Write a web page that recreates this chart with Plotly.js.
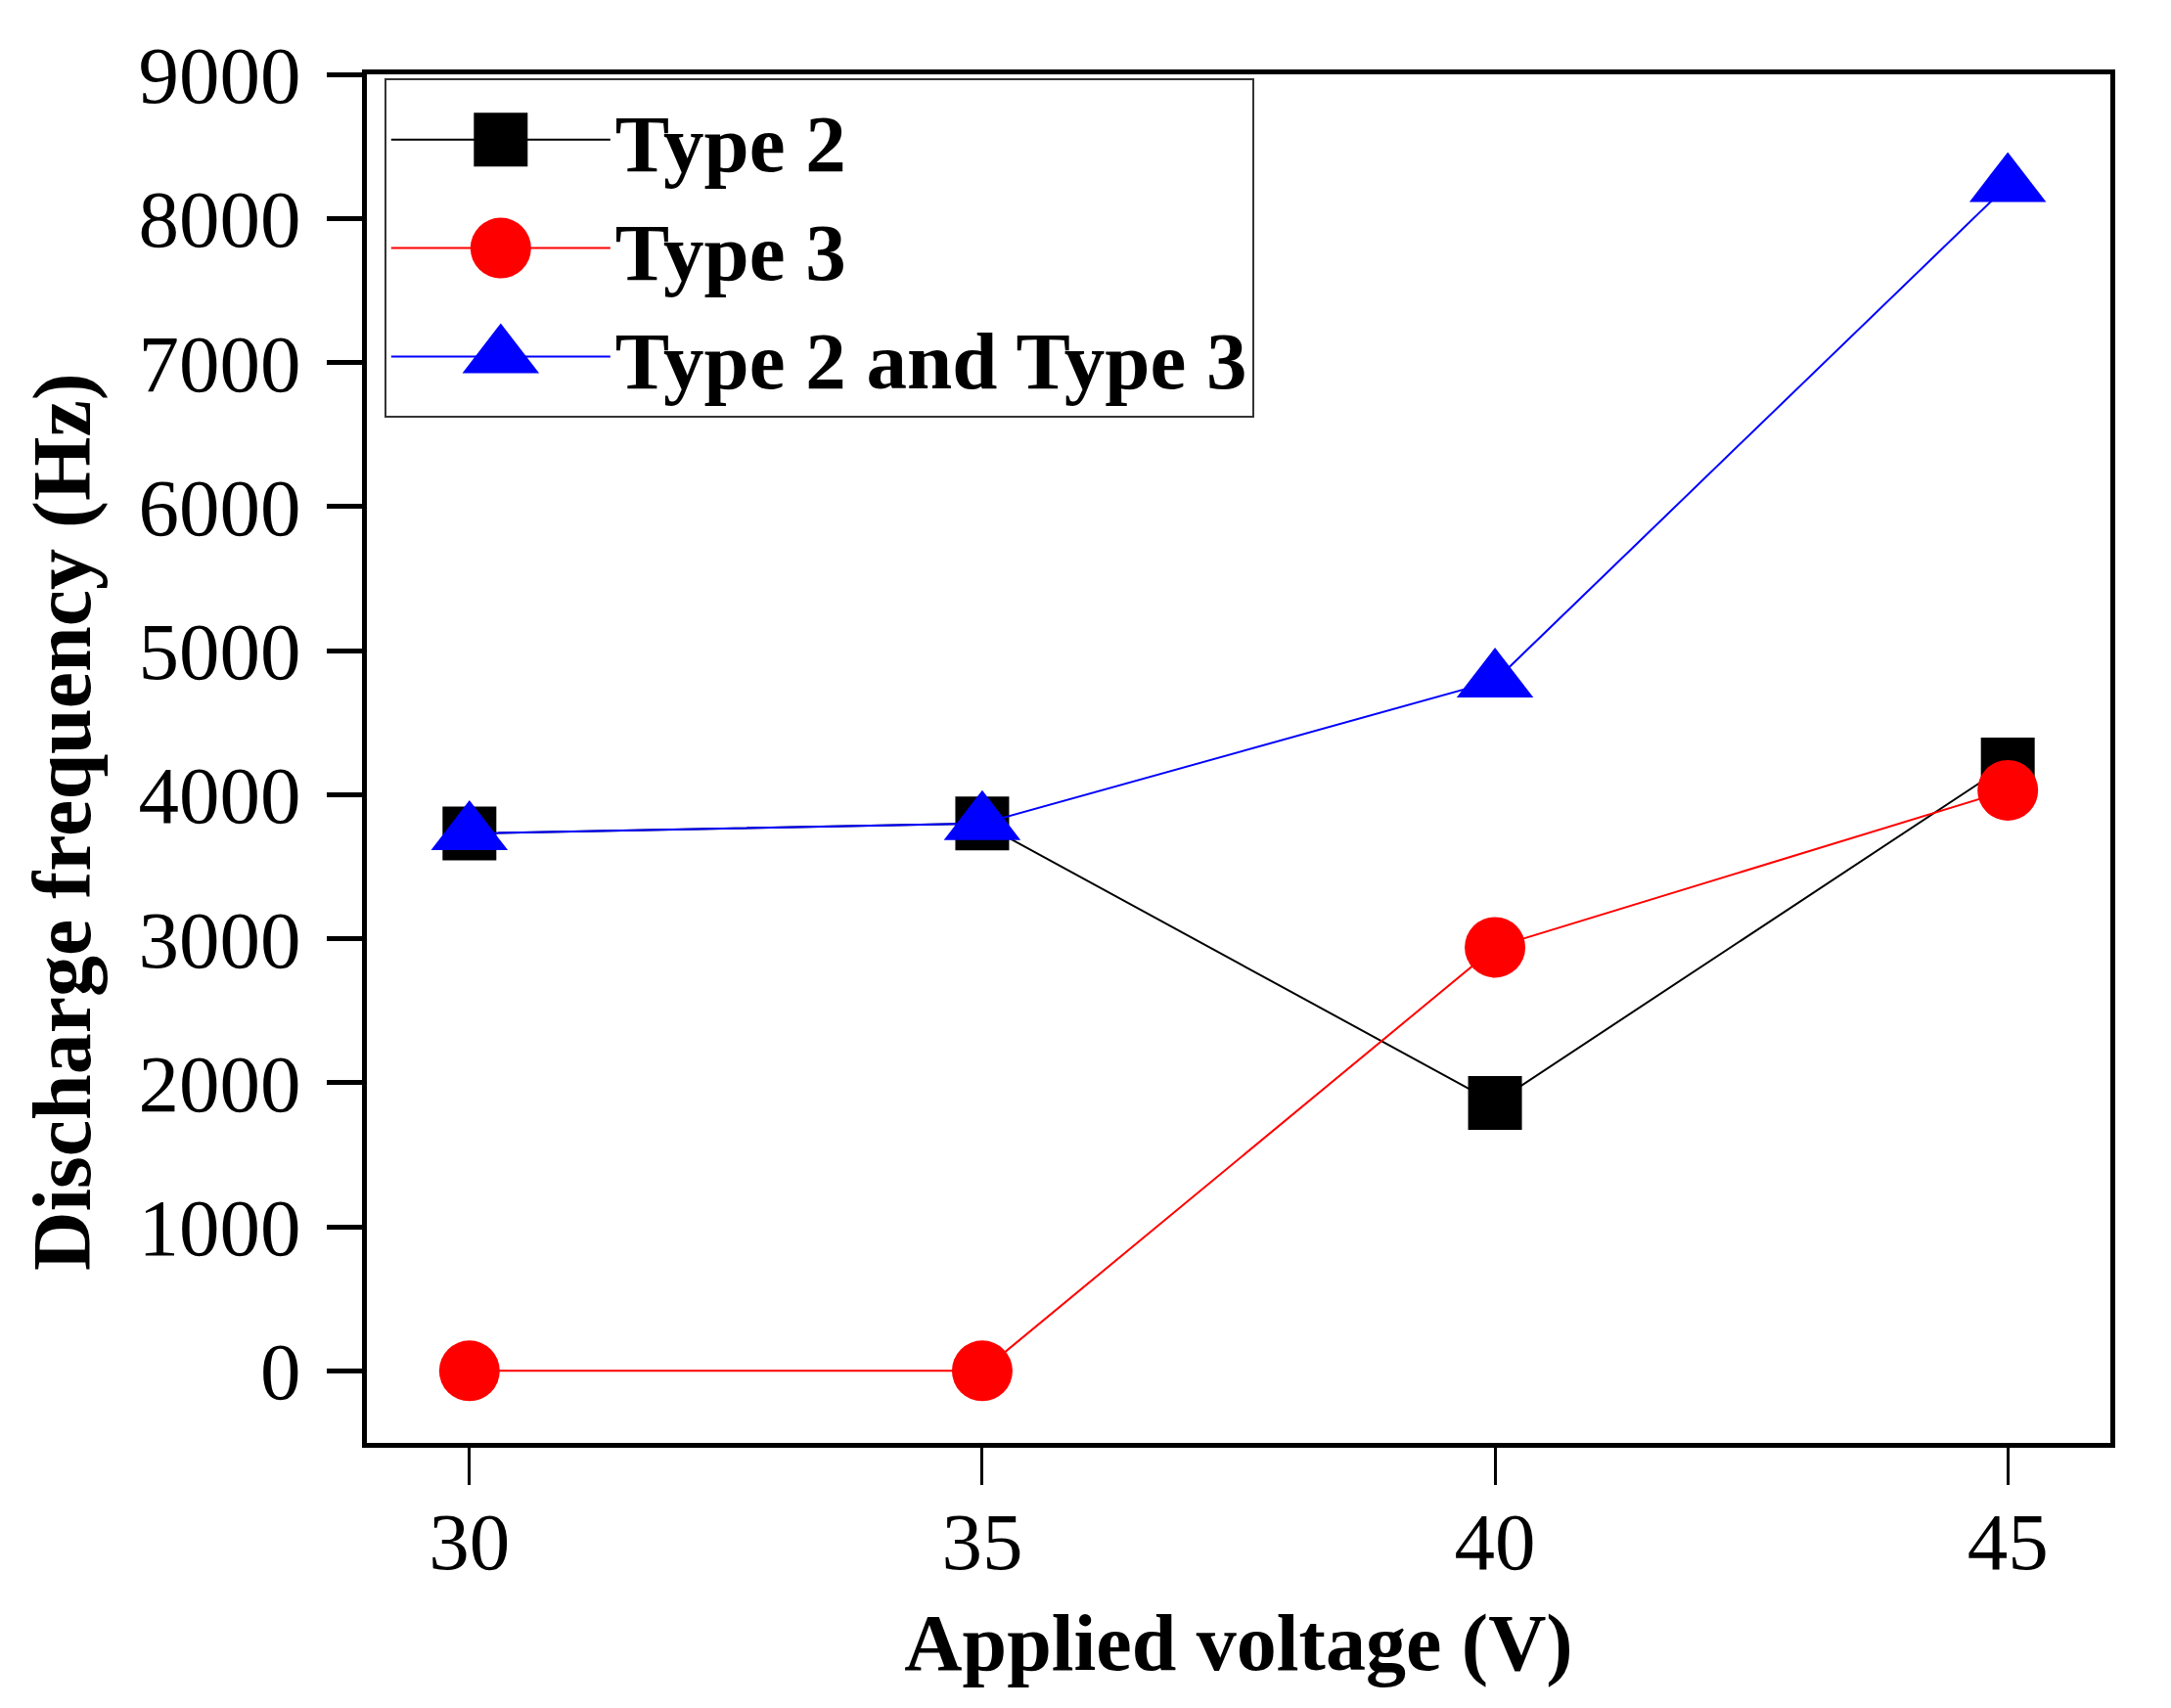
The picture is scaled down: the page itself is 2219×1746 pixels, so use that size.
<!DOCTYPE html>
<html>
<head>
<meta charset="utf-8">
<script src="https://cdn.plot.ly/plotly-3.0.1.min.js"></script>
<style>
  html, body { margin: 0; padding: 0; background: #fff; }
  #chart { width: 2219px; height: 1746px; }
</style>
</head>
<body>
<div id="chart"></div>
<script>
// Data
var voltage = [30, 35, 40, 45];
var type2 = [3730, 3800, 1860, 4210];
var type3 = [0, 0, 2940, 4030];
var type2and3 = [3730, 3800, 4790, 8230];
var seriesNames = ["Type 2", "Type 3", "Type 2 and Type 3"];
var yTicks = [0, 1000, 2000, 3000, 4000, 5000, 6000, 7000, 8000, 9000];

var serif = "Liberation Serif, Times New Roman, serif";
var markerSizes = [55, 62, 68];

function series(name, y, color, symbol, size) {
    return {
        type: "scatter",
        mode: "lines+markers",
        name: name,
        x: voltage,
        y: y,
        line: {color: color, width: 2},
        marker: {color: color, symbol: symbol, size: size, line: {width: 0}}
    };
}

var data = [
    series(seriesNames[0], type2, "#000000", "square", markerSizes[0]),
    series(seriesNames[1], type3, "#ff0000", "circle", markerSizes[1]),
    series(seriesNames[2], type2and3, "#0000ff", "triangle-up", markerSizes[2])
];

var layout = {
    width: 2219,
    height: 1746,
    margin: {l: 375, r: 62, t: 76, b: 271},
    paper_bgcolor: "#ffffff",
    plot_bgcolor: "#ffffff",
    font: {family: serif, color: "#000000", size: 82},
    showlegend: true,
    legend: {
        x: 0.01, y: 0.997,
        xanchor: "left", yanchor: "top",
        bgcolor: "#ffffff",
        bordercolor: "#333333",
        borderwidth: 2,
        itemwidth: 224,
        font: {family: serif, size: 83, color: "#000000", weight: "bold"}
    },
    xaxis: {
        range: [29, 46],
        tickvals: voltage,
        ticktext: voltage.map(String),
        ticks: "outside",
        ticklen: 38,
        tickwidth: 3,
        tickcolor: "#000000",
        ticklabelstandoff: -14,
        showline: true,
        linewidth: 5,
        linecolor: "#000000",
        mirror: true,
        showgrid: false,
        zeroline: false,
        tickfont: {family: serif, size: 83},
        title: {
            text: "Applied voltage (V)",
            standoff: 31,
            font: {family: serif, size: 82, weight: "bold"}
        }
    },
    yaxis: {
        range: [-500, 9000],
        tickvals: yTicks,
        ticktext: yTicks.map(String),
        ticks: "outside",
        ticklen: 36,
        tickwidth: 5,
        tickcolor: "#000000",
        ticklabelstandoff: 10,
        showline: true,
        linewidth: 5,
        linecolor: "#000000",
        mirror: true,
        showgrid: false,
        zeroline: false,
        tickfont: {family: serif, size: 83}
    },
    annotations: [{
        text: "<b>Discharge frequency (Hz)</b>",
        xref: "paper", yref: "paper",
        x: -0.1745, y: 0.454,
        xanchor: "center", yanchor: "middle",
        textangle: -90,
        showarrow: false,
        font: {family: serif, size: 84, color: "#000000"}
    }]
};

Plotly.newPlot("chart", data, layout, {staticPlot: true}).then(function (gd) {
    // legend symbols are capped at 16px by plotly; enlarge them to the trace size
    var pts = gd.querySelectorAll(".legend .traces");
    pts.forEach(function (item, i) {
        var p = item.querySelector("path.scatterpts");
        if (!p) return;
        var t = p.getAttribute("transform") || "";
        p.setAttribute("transform", t + " scale(" + (markerSizes[i] / 16) + ")");
    });
});
</script>
</body>
</html>
